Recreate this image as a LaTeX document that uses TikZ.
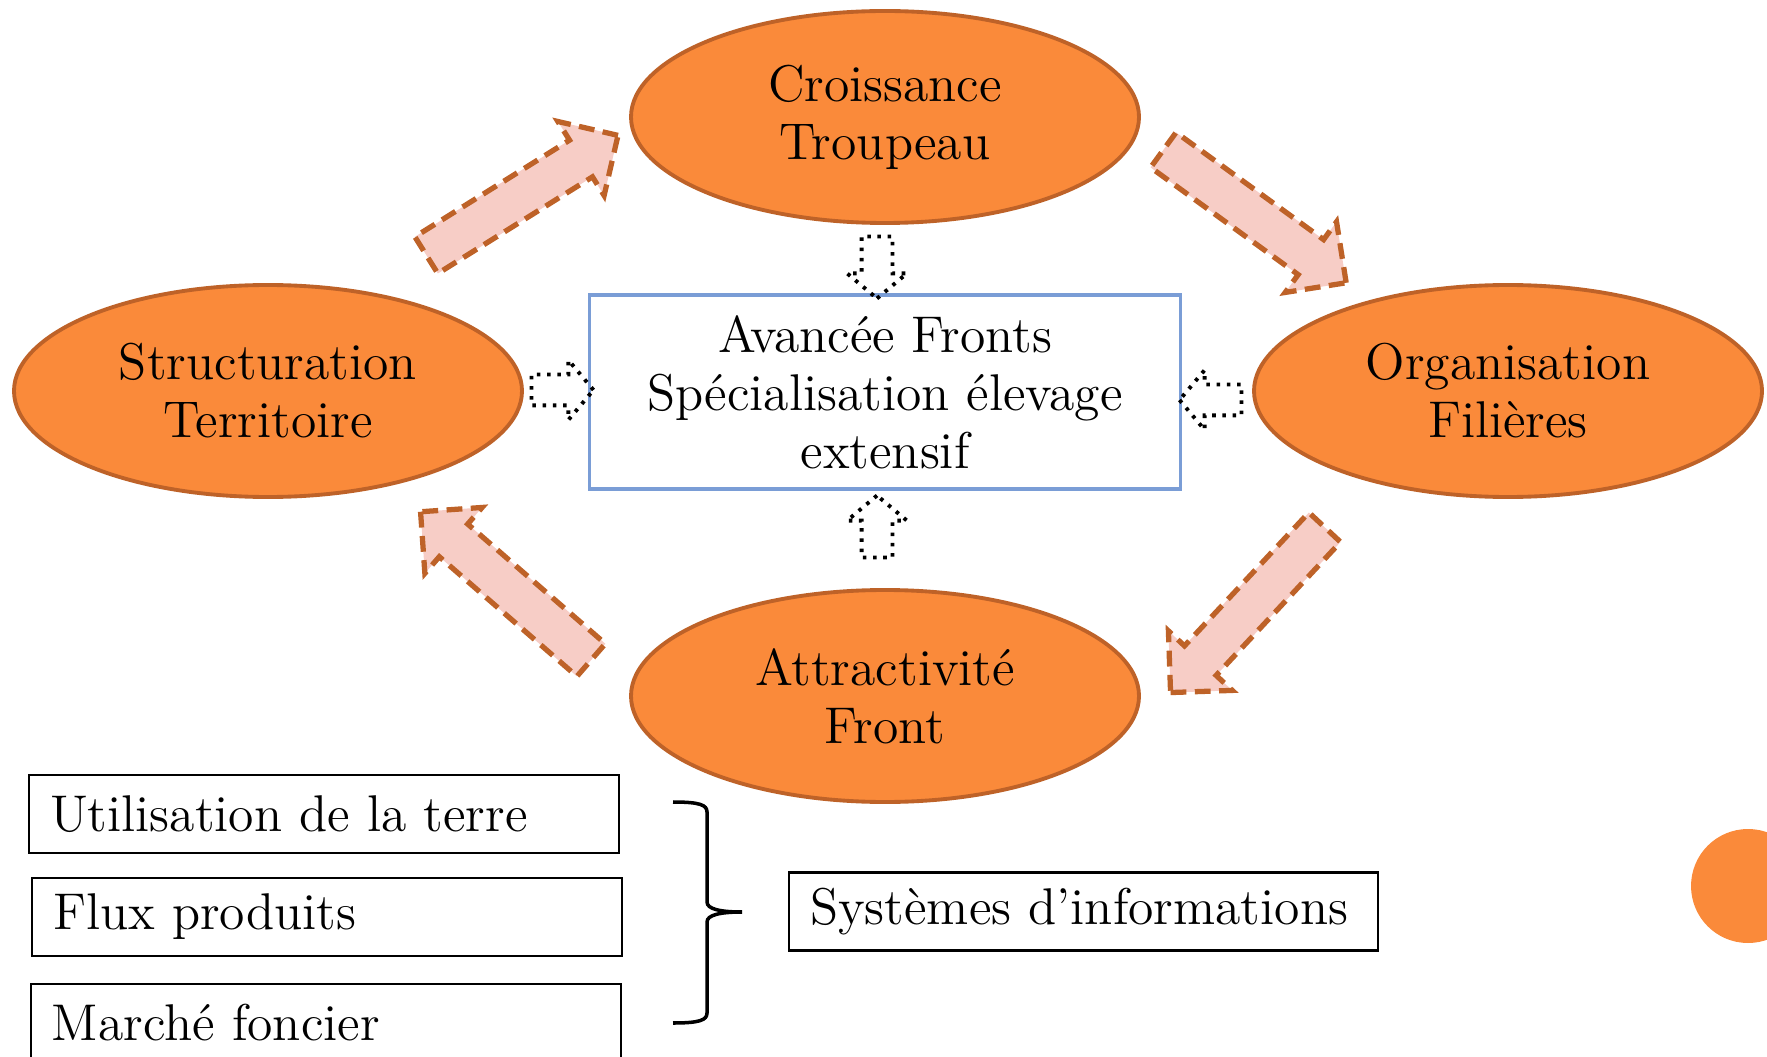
\documentclass[tikz,border=0pt]{standalone}
\usepackage{fontspec}
\usepackage{tikz}
\usetikzlibrary{shapes.geometric,shapes.arrows}

\definecolor{orangebulle}{RGB}{250,138,58}
\definecolor{bordbulle}{RGB}{190,98,40}
\definecolor{rosefleche}{RGB}{247,205,198}
\definecolor{bleucadre}{RGB}{122,157,214}

\begin{document}
\begin{tikzpicture}[bulle/.style={ellipse, fill=orangebulle, draw=bordbulle, line width=1.1pt, minimum width=5.08cm, minimum height=2.12cm, inner sep=0pt, align=center, font=\fontsize{14.7}{16.5}\selectfont},
                    cadre/.style={rectangle, draw=bleucadre, line width=1.1pt, minimum width=5.91cm, minimum height=1.94cm, align=center, font=\fontsize{14.7}{16.5}\selectfont},
                    etiquette/.style={rectangle, draw, line width=0.6pt, minimum width=5.9cm, minimum height=0.78cm, inner xsep=0.21cm, text width=5.48cm, align=left, font=\fontsize{14.7}{16.5}\selectfont},
                    grossefleche/.style={single arrow, fill=rosefleche, draw=bordbulle, line width=1.5pt, dash pattern=on 4.5pt off 2.4pt, inner xsep=0pt, inner ysep=0.19cm, text height=0pt, text depth=0pt, single arrow head extend=0.22cm, minimum width=0.82cm, minimum height=2.26cm},
                    petitefleche/.style={single arrow, draw, line width=1.1pt, dash pattern=on 1pt off 1.9pt, inner xsep=0pt, inner ysep=0.135cm, text height=0pt, text depth=0pt, single arrow head extend=0.145cm, single arrow tip angle=100, minimum width=0.56cm, minimum height=0.62cm},
                    accolade/.style={line width=1pt}]

	\useasboundingbox (0,0) rectangle (17.67,-10.57);

	\node[bulle] (Croissance) at (8.85,-1.17) {Croissance\\Troupeau};

	\node[bulle] (Structuration) at (2.68,-3.91) {Structuration\\Territoire};

	\node[bulle] (Organisation) at (15.08,-3.91) {Organisation\\Filières};

	\node[bulle] (Attractivite) at (8.85,-6.96) {Attractivité\\Front};

	\node[cadre] (Avancee) at (8.85,-3.92) {Avancée Fronts\\Spécialisation élevage\\extensif};

	\node[grossefleche, rotate=32] (StructVersCrois) at (5.13,-2.01) {};

	\node[grossefleche, rotate=-36] (CroisVersOrga) at (12.46,-2.10) {};

	\node[grossefleche, rotate=-133] (OrgaVersAttr) at (12.55,-6.02) {};

	\node[grossefleche, rotate=139] (AttrVersStruct) at (5.14,-5.93) {};

	\node[petitefleche, rotate=-90] (flecheHaut) at (8.77,-2.61) {};

	\node[petitefleche, rotate=90] (flecheBas) at (8.77,-5.33) {};

	\node[petitefleche] (flecheGauche) at (5.56,-3.90) {};

	\node[petitefleche, rotate=180] (flecheDroite) at (12.17,-4.00) {};

	\node[etiquette] (Utilisation) at (3.24,-8.14) {Utilisation de la terre};

	\node[etiquette] (Flux) at (3.27,-9.17) {Flux produits};

	\node[etiquette] (Marche) at (3.26,-10.23) {Marché foncier};

	\node[etiquette, minimum width=5.89cm, text width=5.47cm] (Systemes) at (10.835,-9.115) {Systèmes d’informations};

	\draw[accolade] (6.73,-8.02) .. controls (7.00,-8.02) and (7.07,-8.05) .. (7.07,-8.12) -- (7.07,-9.02) .. controls (7.07,-9.09) and (7.20,-9.12) .. (7.42,-9.12) .. controls (7.20,-9.12) and (7.07,-9.15) .. (7.07,-9.22) -- (7.07,-10.13) .. controls (7.07,-10.20) and (7.00,-10.23) .. (6.73,-10.23);

	\node[circle, fill=orangebulle, minimum size=1.14cm, inner sep=0pt] (puce) at (17.48,-8.86) {};

\end{tikzpicture}
\end{document}
